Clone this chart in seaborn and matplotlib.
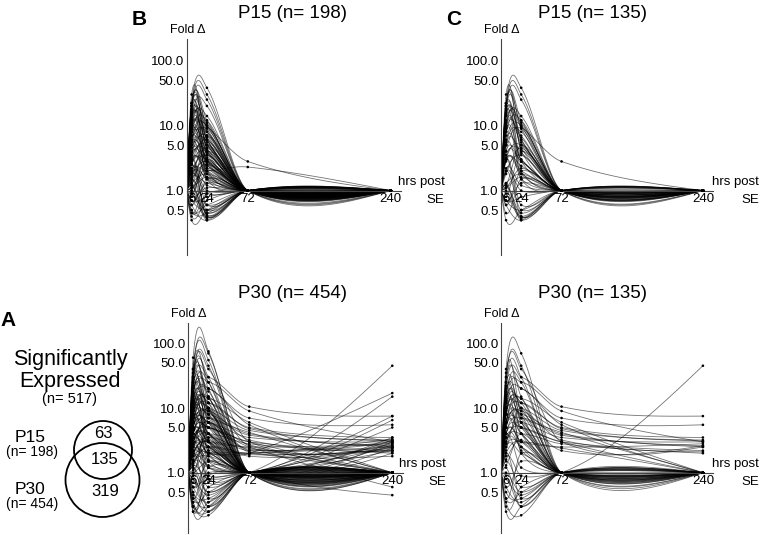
import numpy as np
import pandas as pd
import matplotlib
matplotlib.use("Agg")
import matplotlib.pyplot as plt
import seaborn as sns
from matplotlib.collections import LineCollection
from matplotlib.patches import Circle
from matplotlib.ticker import FixedLocator, NullFormatter, LogLocator


TIMES = [0, 6, 24, 72, 240]

# fold change at 6, 24, 72 and 240 hrs post SE (time 0 is 1.0 for every gene)
p15_h6 = [22, 30, 20, 18, 12, 20, 18, 16, 14, 12, 10, 9, 8, 7, 6, 5, 4, 3, 2.5, 2,
          1.5, 2, 20, 15, 10, 8, 6, 5, 4, 3, 2.5, 3.5, 4.5, 1.2, 1.5, 0.8, 1, 1, 1.2, 0.9,
          1.5, 0.7, 0.5, 0.45, 0.6, 0.4, 2, 3, 1.8, 2.2, 1.3, 1.6, 1.1, 0.8, 0.7, 6, 8, 11, 13, 17,
          9, 7, 5, 3.8, 2.8, 1.9, 22, 10, 4, 3,
          3, 2.2, 4, 5, 6, 7, 9, 12, 2, 1.5, 1.2, 0.9, 1.3, 2.5, 0.6, 0.5, 0.35, 0.45, 3.2, 2.6,
          1.8, 1.4, 1.1, 0.9, 16, 20, 22, 8, 5.5, 3.5, 0.7, 1.7]
p15_h24 = [38, 4, 30, 25, 20, 12, 10, 8, 6, 9.5, 5, 4, 3, 12, 10, 8, 6, 5, 4, 3.5,
           2.5, 2, 2, 1.5, 2.5, 1.8, 2, 1.5, 2.2, 1.8, 3, 2.8, 3.2, 5, 7, 4, 3, 0.4, 0.35, 0.38,
           0.45, 0.5, 0.6, 1.5, 2, 0.7, 0.5, 0.6, 0.9, 1.2, 1.8, 1.3, 2.2, 1.1, 0.8, 5, 6.5, 7, 3.5, 4.5,
           14, 2.8, 3.8, 1.6, 2.4, 1.6, 6, 11, 9, 0.4,
           2, 1.5, 2.8, 2.5, 3, 4, 5.5, 5, 1, 0.6, 0.45, 0.5, 0.38, 0.42, 0.35, 0.45, 0.5, 0.9, 4.2, 6,
           4.5, 3.5, 1.6, 2.5, 2.8, 6, 9, 8, 10, 7, 1.3, 2.8]
p15_h72 = [1] * 9 + [2.8] + [1] * 11 + [2.3] + [1] * 80
p15_h240 = [1] * 102
shared_p15 = [0, 1, 2, 3, 5, 6, 8, 9, 10, 12, 13, 15, 17, 19, 22, 23, 25, 27, 29, 31,
              33, 35, 37, 38, 39, 41, 43, 44, 46, 47, 49, 50, 52, 54, 56, 57, 59, 60, 62, 64,
              66, 67, 68, 69, 70, 72, 74, 76, 78, 80, 82, 84, 86, 88, 90, 92, 94, 96, 98, 100]

p30_h6 = [60, 40, 40, 30, 40, 35, 25, 20, 15, 12, 10, 8, 6, 5, 4, 3, 2.5, 2, 1.5, 18,
          22, 9, 7, 1.2, 0.8, 0.5, 0.3, 0.25, 0.4, 1, 0.6, 2, 3, 1.5, 0.7, 0.25, 0.35, 1.3, 0.9, 2.2,
          3.5, 4.5, 6, 11, 14, 1.8, 1.4, 20, 15, 10, 8, 6, 5, 4, 3, 2.5, 2, 12, 30, 3,
          1.5, 5, 7, 4, 6, 9, 2, 10, 3, 5, 3, 4, 2, 6, 1.5, 2, 8, 1.3, 3, 10,
          2.5, 4, 0.45, 0.35, 1, 0.6, 30, 28, 16, 9,
          3, 5, 8, 2.5, 1.8, 1.2, 0.9, 0.5, 0.4, 0.3, 0.6, 1.1, 2.8, 4, 6, 9, 13, 17, 25, 30,
          1.6, 2.2, 3.5, 4.5, 0.8, 0.3,
          4, 6, 3, 2, 8, 5, 2.5, 3.5, 7, 1.8]
p30_h24 = [75, 70, 55, 45, 20, 8, 30, 15, 25, 10, 6, 12, 4, 8, 3, 5, 2, 3, 1.8, 4,
           6, 2.5, 1.5, 0.3, 0.25, 0.4, 0.6, 1.2, 2, 0.5, 0.35, 0.4, 0.7, 0.6, 0.8, 0.3, 0.22, 4, 6, 10,
           2.5, 1.8, 2.2, 3, 2, 1.3, 2.5, 30, 20, 12, 10, 8, 6, 5, 4, 3, 3.5, 25, 40, 2,
           2.5, 9, 15, 3, 5, 7, 2, 20, 6, 4, 2, 6, 3, 10, 1.2, 1.5, 3, 0.8, 4, 8,
           2.5, 5, 0.3, 0.25, 1.5, 1, 12, 3, 9, 4,
           2.5, 3.5, 5, 1.2, 0.9, 0.5, 0.3, 0.25, 0.5, 0.9, 1.5, 2.2, 6, 9, 14, 18, 7, 10, 15, 25,
           3.2, 1.6, 1.2, 0.8, 0.45, 0.35,
           7, 12, 5, 2.5, 14, 6, 4, 3, 9, 2]
p30_h72 = ([1] * 47
           + [10.5, 7, 5, 4.5, 4, 3.5, 3, 2.8, 2.5, 2.2, 9, 3, 2, 2, 3.2, 2.6,
              2.4, 3, 4.2, 2, 5.5, 2.1, 1, 2, 1, 1, 1, 1, 1, 1, 1, 1, 1, 1,
              2.5, 1, 1, 1, 1, 1, 1, 2.2, 1.8]
           + [1] * 26
           + [3.8, 4.8, 2.3, 1.9, 6, 2.7, 1, 1, 1, 1])
p30_h240 = ([1] * 47
            + [7.5, 5.5, 3.5, 3.2, 2.5, 3, 2.2, 2, 2.8, 3, 3, 2.5, 2.5, 3.3, 2.1, 2.4,
               1, 1, 1, 1, 1, 1.8, 45, 17, 15, 6.5, 3, 2.5, 2.2, 0.45, 2.8, 3.5, 2, 5,
               0.6, 1, 1, 1, 1, 1, 1, 2.6, 2.3]
            + [1] * 26
            + [2.6, 3.1, 2.9, 2.2, 1, 1, 2.7, 3.2, 2.4, 7.5])
shared_p30 = [1, 3, 5, 6, 8, 9, 10, 11, 12, 13, 14, 15, 16, 17, 19, 20, 21, 23, 25, 26,
              28, 29, 30, 31, 33, 35, 36, 37, 39, 40, 42, 44, 47, 48, 49, 50, 51, 52, 53, 54,
              55, 57, 58, 61, 63, 64, 65, 67, 69, 88, 90, 92, 94, 96, 98, 100, 102, 104, 106,
              108, 110, 112, 114, 116, 117, 120]

venn_counts = [63, 135, 319]

W, H = 761, 535


def px(x, y):
    return x / W, 1 - y / H


def smooth_path(values, n=30):
    # cubic hermite curve through the points in log space (drawing style only)
    t = np.array(TIMES, dtype=float)
    ly = np.log10(np.array([1.0] + list(values)))
    d = np.diff(ly) / np.diff(t)
    h = np.diff(t)
    m = np.zeros_like(ly)
    for i in range(1, len(t) - 1):
        m[i] = (ly[i + 1] - ly[i - 1]) / (t[i + 1] - t[i - 1])
    bessel = (h[1] * d[0] + h[0] * d[1]) / (h[0] + h[1])
    m[1] = 0.5 * (m[1] + bessel)
    m[0] = 1.5 * d[0] - m[1] / 2
    m[-1] = 1.5 * d[-1] - m[-2] / 2
    xs, ys = [], []
    u = np.linspace(0, 1, n)
    for i in range(len(t) - 1):
        h00 = 2 * u**3 - 3 * u**2 + 1
        h10 = u**3 - 2 * u**2 + u
        h01 = -2 * u**3 + 3 * u**2
        h11 = u**3 - u**2
        s = h00 * ly[i] + h10 * h[i] * m[i] + h01 * ly[i + 1] + h11 * h[i] * m[i + 1]
        xs.append(t[i] + u * h[i])
        ys.append(10 ** s)
    return np.column_stack([np.concatenate(xs), np.concatenate(ys)])


def draw_panel(rect, h6, h24, h72, h240, idx, ylim, title, title_xy, letter=None):
    ax = fig.add_axes(rect)
    ax.set_yscale("log")
    ax.set_xlim(0, 252)
    ax.set_ylim(*ylim)

    genes = [(h6[i], h24[i], h72[i], h240[i]) for i in idx]
    segs = [smooth_path(g) for g in genes]
    ax.add_collection(LineCollection(segs, colors="black", linewidths=0.6, alpha=0.55))

    dots = pd.DataFrame({
        "t": np.repeat([[6, 24, 72, 240]], len(genes), axis=0).ravel(),
        "fold": np.array(genes).ravel(),
    })
    sns.scatterplot(data=dots, x="t", y="fold", s=3.5, color="black",
                    edgecolor="none", ax=ax, legend=False, zorder=3)

    for side in ["top", "right"]:
        ax.spines[side].set_visible(False)
    ax.spines["bottom"].set_position(("data", 1))
    for side in ["left", "bottom"]:
        ax.spines[side].set_color("#444444")
        ax.spines[side].set_linewidth(0.8)

    ax.yaxis.set_major_locator(FixedLocator([0.5, 1, 5, 10, 50, 100]))
    ax.set_yticklabels(["0.5", "1.0", "5.0", "10.0", "50.0", "100.0"])
    ax.yaxis.set_minor_locator(LogLocator(base=10, subs=np.arange(2, 10)))
    ax.yaxis.set_minor_formatter(NullFormatter())
    ax.set_xticks([6, 24, 72, 240])
    ax.set_xticklabels(["6", "24", "72", "240"])
    ax.tick_params(axis="both", which="major", direction="in", length=3, width=0.6,
                   labelsize=9.5, colors="#444444", labelcolor="black", pad=1.5)
    ax.tick_params(axis="y", which="minor", direction="in", length=1.5, width=0.5,
                   colors="#444444")
    ax.set_xlabel("")
    ax.set_ylabel("")

    # axis captions
    l, b, w, hgt = rect
    x0 = l * W
    y1 = (1 - b) * H - hgt * H * (np.log10(1) - np.log10(ylim[0])) / (np.log10(ylim[1]) - np.log10(ylim[0]))
    fig.text(*px(x0 + 1, (1 - b - hgt) * H - 9), "Fold Δ", ha="center", va="center", fontsize=9)
    fig.text(*px(x0 + 258, y1 - 9), "hrs post", ha="right", va="center", fontsize=9.5)
    fig.text(*px(x0 + 258, y1 + 9), "SE", ha="right", va="center", fontsize=9.5)
    fig.text(*px(*title_xy), title, ha="center", va="center", fontsize=13.5)
    if letter:
        fig.text(*px(x0 - 47, (1 - b - hgt) * H - 19), letter, ha="center", va="center",
                 fontsize=15, fontweight="bold")
    return ax


sns.set_theme(style="white")
plt.rcParams["font.family"] = ["Liberation Sans", "DejaVu Sans"]
plt.rcParams["text.color"] = "black"

fig = plt.figure(figsize=(W / 100, H / 100), dpi=100)

all15 = list(range(len(p15_h6)))
all30 = list(range(len(p30_h6)))
top_ylim = (0.102, 214)
bot_ylim = (0.117, 206)
top_rect_y = (1 - 255 / H, 216 / H)
bot_rect_y = (1 - 533 / H, 210 / H)

draw_panel([186.5 / W, top_rect_y[0], 214.5 / W, top_rect_y[1]],
           p15_h6, p15_h24, p15_h72, p15_h240, all15, top_ylim, "P15 (n= 198)", (292, 13), "B")
draw_panel([501 / W, top_rect_y[0], 212 / W, top_rect_y[1]],
           p15_h6, p15_h24, p15_h72, p15_h240, shared_p15, top_ylim, "P15 (n= 135)", (592, 13), "C")
draw_panel([188 / W, bot_rect_y[0], 214.5 / W, bot_rect_y[1]],
           p30_h6, p30_h24, p30_h72, p30_h240, all30, bot_ylim, "P30 (n= 454)", (292, 293))
draw_panel([501 / W, bot_rect_y[0], 212 / W, bot_rect_y[1]],
           p30_h6, p30_h24, p30_h72, p30_h240, shared_p30, bot_ylim, "P30 (n= 135)", (592, 293))

# panel A: venn diagram of significantly expressed genes
fig.text(*px(8, 320), "A", ha="center", va="center", fontsize=15, fontweight="bold")
fig.text(*px(70, 360), "Significantly", ha="center", va="center", fontsize=15.5)
fig.text(*px(70, 382), "Expressed", ha="center", va="center", fontsize=15.5)
fig.text(*px(70, 399), f"(n= {sum(venn_counts)})", ha="center", va="center", fontsize=10.5)
fig.text(*px(30, 437), "P15", ha="center", va="center", fontsize=12.5)
fig.text(*px(32, 452), f"(n= {venn_counts[0] + venn_counts[1]})", ha="center", va="center", fontsize=10)
fig.text(*px(30, 490), "P30", ha="center", va="center", fontsize=12.5)
fig.text(*px(32, 504), f"(n= {venn_counts[1] + venn_counts[2]})", ha="center", va="center", fontsize=10)

ov = fig.add_axes([0, 0, 1, 1])
ov.set_xlim(0, W)
ov.set_ylim(H, 0)
ov.axis("off")
ov.patch.set_alpha(0)
ov.add_patch(Circle((103, 450), 29, fill=False, lw=1.3, color="black"))
ov.add_patch(Circle((102.5, 480), 37, fill=False, lw=1.3, color="black"))
for (x, y), n in zip([(103, 433), (105, 460), (105, 492)], venn_counts):
    ov.text(x, y, str(n), ha="center", va="center", fontsize=12)

fig.savefig("out.png", dpi=100)
plt.close(fig)
